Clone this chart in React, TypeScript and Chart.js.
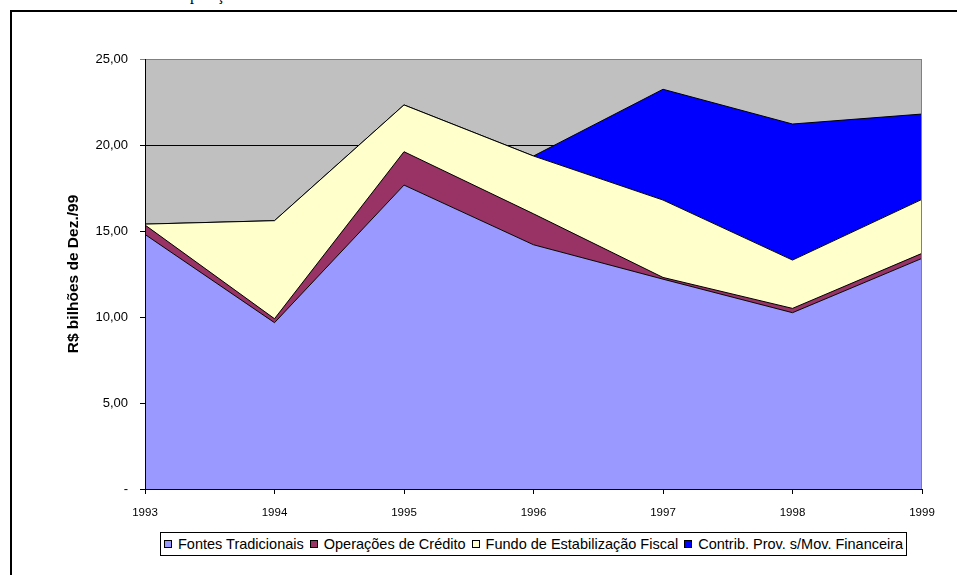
import React, { useEffect, useRef } from "react";
import { Chart, registerables } from "chart.js";

Chart.register(...registerables);

const years = ["1993", "1994", "1995", "1996", "1997", "1998", "1999"];
const fontesTradicionais = [14.8, 9.67, 17.67, 14.2, 12.2, 10.25, 13.41];
const operacoesCredito = [0.55, 0.23, 1.94, 1.8, 0.1, 0.25, 0.29];
const fundoEstabilizacao = [0.05, 5.7, 2.72, 3.36, 4.5, 2.81, 3.14];
const contribProvisoria = [0, 0, 0, 0, 6.44, 7.91, 4.96];

const seriesNames = [
  "Fontes Tradicionais",
  "Operações de Crédito",
  "Fundo de Estabilização Fiscal",
  "Contrib. Prov. s/Mov. Financeira",
];
const seriesColors = ["#9999FF", "#993366", "#FFFFCC", "#0000FF"];
const yTitle = "R$ bilhões de Dez./99";

const FONT = "Arial, 'Liberation Sans', sans-serif";

const plotFrame = {
  id: "plotFrame",
  beforeDraw(chart: any) {
    const { ctx, chartArea: a } = chart;
    ctx.save();
    ctx.fillStyle = "#C0C0C0";
    ctx.fillRect(a.left, a.top, a.right - a.left, a.bottom - a.top);
    ctx.restore();
  },
  afterDatasetsDraw(chart: any) {
    const { ctx, chartArea: a } = chart;
    ctx.save();
    ctx.lineWidth = 1;
    ctx.strokeStyle = "#808080";
    ctx.beginPath();
    ctx.moveTo(a.left, a.top + 0.5);
    ctx.lineTo(a.right - 0.5, a.top + 0.5);
    ctx.lineTo(a.right - 0.5, a.bottom);
    ctx.stroke();
    ctx.strokeStyle = "#000";
    ctx.beginPath();
    ctx.moveTo(a.left + 0.5, a.top);
    ctx.lineTo(a.left + 0.5, a.bottom + 0.5);
    ctx.lineTo(a.right, a.bottom + 0.5);
    ctx.stroke();
    ctx.restore();
  },
};

export default function App() {
  const ref = useRef<HTMLCanvasElement>(null);

  useEffect(() => {
    if (!ref.current) return;
    const data = [fontesTradicionais, operacoesCredito, fundoEstabilizacao, contribProvisoria];
    const chart = new Chart(ref.current, {
      type: "line",
      data: {
        labels: years,
        datasets: data.map((d, i) => ({
          label: seriesNames[i],
          data: d,
          backgroundColor: seriesColors[i],
          borderColor: "#000",
          borderWidth: 1,
          pointRadius: 0,
          tension: 0,
          fill: i === 0 ? "origin" : "-1",
        })),
      },
      options: {
        responsive: false,
        animation: false,
        devicePixelRatio: 1,
        layout: { padding: { left: 58, right: 35, top: 59, bottom: 0 } },
        plugins: {
          legend: { display: false },
          tooltip: { enabled: false },
        },
        scales: {
          x: {
            type: "category",
            offset: false,
            grid: { display: true, drawOnChartArea: false, tickLength: 5, color: "#000" },
            border: { display: true, color: "#000" },
            ticks: {
              font: { family: FONT, size: 11.5 },
              color: "#000",
              padding: 12,
              maxRotation: 0,
              autoSkip: false,
            },
            afterFit: (s: any) => {
              s.height = 86;
            },
          },
          y: {
            stacked: true,
            min: 0,
            max: 25,
            grid: {
              display: true,
              drawOnChartArea: true,
              tickLength: 5,
              color: (c: any) => (c.tick && c.tick.value === 25 ? "#808080" : "#000"),
            },
            border: { display: true, color: "#000" },
            ticks: {
              stepSize: 5,
              font: { family: FONT, size: 13 },
              color: "#000",
              padding: 12,
              callback: (v: any) => (Number(v) === 0 ? "-" : Number(v).toFixed(2).replace(".", ",")),
            },
            title: {
              display: true,
              text: yTitle,
              color: "#000",
              font: { family: FONT, size: 15.5, weight: "bold" },
              padding: { top: 6, bottom: 0 },
            },
            afterFit: (s: any) => {
              s.width = 87;
            },
          },
        },
      },
      plugins: [plotFrame],
    } as any);
    return () => chart.destroy();
  }, []);

  return (
    <div style={{ position: "fixed", left: 0, top: 0, width: 957, height: 575, overflow: "hidden", background: "#fff" }}>
      <div
        style={{
          position: "absolute",
          left: 159,
          top: -13,
          fontFamily: "'Liberation Serif', 'Times New Roman', serif",
          fontSize: 16,
          lineHeight: "16px",
          whiteSpace: "nowrap",
          color: "#000",
        }}
      >
        Composição
      </div>
      <div
        style={{
          position: "absolute",
          left: 10,
          top: 10,
          width: 2000,
          height: 2000,
          border: "2px solid #000",
        }}
      />
      <canvas ref={ref} width={957} height={575} style={{ position: "absolute", left: 0, top: 0, display: "block" }} />
      <div
        style={{
          position: "absolute",
          left: 160,
          top: 532,
          width: 747,
          height: 24,
          boxSizing: "border-box",
          border: "1px solid #000",
          background: "#fff",
          display: "flex",
          alignItems: "center",
          paddingLeft: 3,
          fontFamily: FONT,
          fontSize: 14.5,
          whiteSpace: "nowrap",
          color: "#000",
        }}
      >
        {seriesNames.map((n, i) => (
          <span key={n} style={{ display: "inline-flex", alignItems: "center", marginRight: 6 }}>
            <span
              style={{
                display: "inline-block",
                width: 8,
                height: 8,
                boxSizing: "border-box",
                border: "1px solid #000",
                background: seriesColors[i],
                marginRight: 6,
              }}
            />
            {n}
          </span>
        ))}
      </div>
    </div>
  );
}
